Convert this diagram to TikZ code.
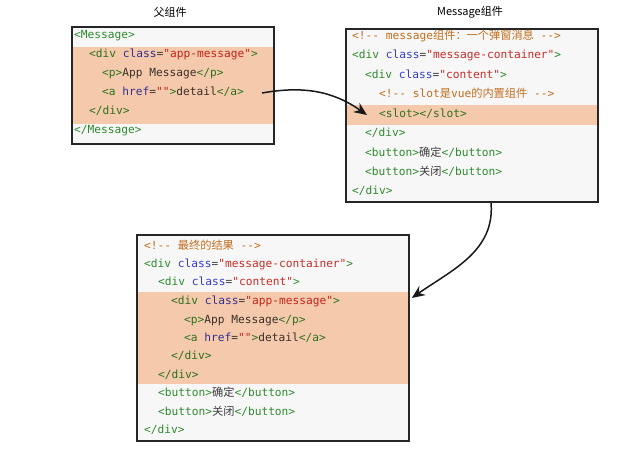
\documentclass[tikz,border=0pt]{standalone}
\usepackage{fontspec}
\newfontfamily\codefont{DejaVu Sans Mono}
\newfontfamily\cjk{Noto Sans CJK SC}
\usetikzlibrary{arrows.meta, positioning}
\definecolor{boxgray}{RGB}{247,247,247}
\definecolor{peach}{RGB}{252,208,178}
\definecolor{tagc}{RGB}{46,139,46}
\definecolor{attrc}{RGB}{55,60,205}
\definecolor{strc}{RGB}{200,45,40}
\definecolor{comc}{RGB}{195,110,30}
\definecolor{txtc}{RGB}{60,60,60}
\newcommand{\ctag}[1]{\textcolor{tagc}{#1}}
\newcommand{\cattr}[2]{\textcolor{attrc}{#1}\textcolor{txtc}{=}\textcolor{strc}{#2}}
\newcommand{\zh}[1]{{\cjk #1}}
\tikzstyle{codebox} = [rectangle, draw=black!85, line width=1.6pt, fill=boxgray, inner sep=0pt]
\tikzstyle{hilite} = [rectangle, fill=peach, inner sep=0pt, blend mode=multiply]
\tikzstyle{code} = [anchor=west, inner sep=0pt, text=txtc, text height=8pt, text depth=2.5pt, font=\codefont\fontsize{11.2}{13}\selectfont]
\tikzstyle{title} = [font=\cjk\fontsize{11}{13}\selectfont]
\tikzstyle{arrow} = [-{Stealth[length=13pt,width=11pt]}, line width=1.5pt, black!90]

\begin{document}
\begin{tikzpicture}[x=1pt, y=-1pt]
		\useasboundingbox (0,0) rectangle (633,454);
		\node (ptitle) [title] at (170,12) {父组件};
		\node (mtitle) [title] at (470,12) {Message组件};
		
		% parent component
		\node (parent) [codebox, minimum width=202pt, minimum height=117pt] at (173,85.5) {};
		\node (p1) [code] at (74,36) {\ctag{<Message>}};
		\node (p2) [code] at (89,55) {\ctag{<div} \cattr{class}{"app-message"}\ctag{>}};
		\node (p3) [code] at (102,74) {\ctag{<p>}App Message\ctag{</p>}};
		\node (p4) [code] at (102,93) {\ctag{<a} \cattr{href}{""}\ctag{>}detail\ctag{</a>}};
		\node (p5) [code] at (89,112) {\ctag{</div>}};
		\node (p6) [code] at (74,131) {\ctag{</Message>}};
		\node (phl) [hilite, minimum width=200.4pt, minimum height=77pt] at (173,85.5) {};
		
		% message component
		\node (msg) [codebox, minimum width=252pt, minimum height=173pt] at (472,115.5) {};
		\node (m1) [code] at (352,37) {\textcolor{comc}{<!-- message\zh{组件：一个弹窗消息} -->}};
		\node (m2) [code] at (352,56) {\ctag{<div} \cattr{class}{"message-container"}\ctag{>}};
		\node (m3) [code] at (365,76) {\ctag{<div} \cattr{class}{"content"}\ctag{>}};
		\node (m4) [code] at (379,95) {\textcolor{comc}{<!-- slot\zh{是}vue\zh{的内置组件} -->}};
		\node (m5) [code] at (379,115) {\ctag{<slot></slot>}};
		\node (m6) [code] at (365,134) {\ctag{</div>}};
		\node (m7) [code] at (365,154) {\ctag{<button>}\zh{确定}\ctag{</button>}};
		\node (m8) [code] at (365,173) {\ctag{<button>}\zh{关闭}\ctag{</button>}};
		\node (m9) [code] at (352,192) {\ctag{</div>}};
		\node (mhl) [hilite, minimum width=250.4pt, minimum height=20pt] at (472,115) {};
		
		% result
		\node (result) [codebox, minimum width=272pt, minimum height=206pt] at (273,338) {};
		\node (r1) [code] at (144,247) {\textcolor{comc}{<!-- \zh{最终的结果} -->}};
		\node (r2) [code] at (144,265) {\ctag{<div} \cattr{class}{"message-container"}\ctag{>}};
		\node (r3) [code] at (158,283) {\ctag{<div} \cattr{class}{"content"}\ctag{>}};
		\node (r4) [code] at (171,302) {\ctag{<div} \cattr{class}{"app-message"}\ctag{>}};
		\node (r5) [code] at (184,321) {\ctag{<p>}App Message\ctag{</p>}};
		\node (r6) [code] at (184,339) {\ctag{<a} \cattr{href}{""}\ctag{>}detail\ctag{</a>}};
		\node (r7) [code] at (171,357) {\ctag{</div>}};
		\node (r8) [code] at (158,376) {\ctag{</div>}};
		\node (r9) [code] at (158,394) {\ctag{<button>}\zh{确定}\ctag{</button>}};
		\node (r10) [code] at (158,413) {\ctag{<button>}\zh{关闭}\ctag{</button>}};
		\node (r11) [code] at (144,431) {\ctag{</div>}};
		\node (rhl) [hilite, minimum width=270.4pt, minimum height=92pt] at (273,338) {};
		
		\coordinate (from1) at ([xshift=18pt]p4.east);
		\coordinate (from2) at ([xshift=19pt]msg.south);
		\draw [arrow] (from1) to[out=10, in=145] ([xshift=-12pt]m5.west);
		\draw [arrow] (from2) to[out=-85, in=35] ([xshift=2pt, yshift=40pt]result.east);
	\end{tikzpicture}
\end{document}
